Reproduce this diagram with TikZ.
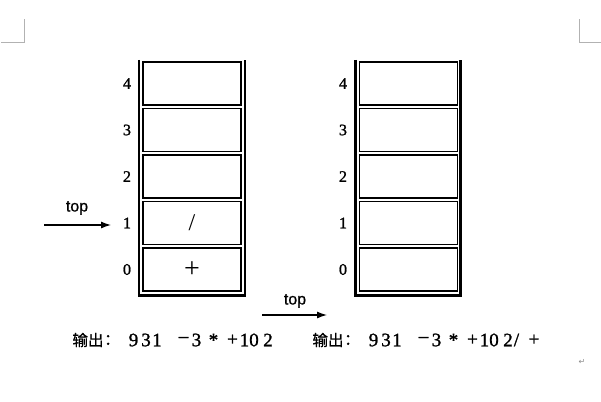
\documentclass[tikz,border=0pt]{standalone}
\usepackage{fontspec}
\setmainfont{Liberation Serif}
\newfontfamily\digf[FakeBold=1.3]{Liberation Serif}
\newfontfamily\cjk[FakeBold=1]{Noto Sans CJK SC}
\newfontfamily\sansf[FakeBold=0.8]{Liberation Sans}
\newfontfamily\dejavu{DejaVu Sans}
\usetikzlibrary{arrows.meta}
\newcommand\myslashch{/}
\newcommand\myast{\raisebox{-3pt}{*}}
\newcommand\mydash{\raisebox{1pt}{–}}
\tikzset{
  cell/.style={draw, line width=1.2pt, minimum width=98pt, minimum height=43pt, inner sep=0pt},
  wall/.style={line width=2.8pt, line join=miter},
  idx/.style={font=\digf\fontsize{16}{16}\selectfont, inner sep=0pt},
  toplab/.style={font=\sansf\fontsize{16}{16}\selectfont, inner sep=0pt},
  ptr/.style={line width=1.2pt, -{Latex[length=10pt,width=7pt]}},
  outch/.style={font=\digf\fontsize{19}{19}\selectfont, inner sep=0pt},
  cjklab/.style={font=\cjk\fontsize{15.5}{15.5}\selectfont, inner sep=0pt},
  crop/.style={draw=black!30, line width=0.8pt},
}
\begin{document}
\begin{tikzpicture}[x=1pt,y=-1pt]
\useasboundingbox (0,0) rectangle (601,401);
% crop marks
\draw[crop] (1,42) -- (24,42) -- (24,19);
\draw[crop] (601,42) -- (579,42) -- (579,19);
% stacks
\foreach \i/\y in {4/83.5,3/130,2/176.5,1/223,0/269.5}{
  \node[cell] (L\i) at (192,\y) {};
  \node[idx] (LN\i) at (127,\y) {\i};
  \node[cell] (R\i) at (408.5,\y) {};
  \node[idx] (RN\i) at (343,\y) {\i};
}
\node[font=\fontsize{24}{24}\selectfont, inner sep=0pt] (Lslash) at (L1) {/};
\node[font=\fontsize{28}{28}\selectfont, inner sep=0pt] (Lplus) at (L0) {+};
\coordinate (LW1) at (139,60);
\coordinate (LW2) at (139,295.5);
\coordinate (LW3) at (245,295.5);
\coordinate (LW4) at (245,60);
\draw[wall] (LW1) -- (LW2) -- (LW3) -- (LW4);
\coordinate (RW1) at (355.5,60);
\coordinate (RW2) at (355.5,295.5);
\coordinate (RW3) at (460.5,295.5);
\coordinate (RW4) at (460.5,60);
\draw[wall] (RW1) -- (RW2) -- (RW3) -- (RW4);
% top pointers
\coordinate (ta1) at (44,225);
\coordinate (tb1) at (111,225);
\draw[ptr] (ta1) -- (tb1);
\node[toplab] (top1) at (77,208) {top};
\coordinate (ta2) at (262,315);
\coordinate (tb2) at (327,315);
\draw[ptr] (ta2) -- (tb2);
\node[toplab] (top2) at (295,301) {top};
% output lines
\node[cjklab] (O1) at (88,340) {输出};
\node[cjklab] (C1) at (112,340) {：};
\foreach \c/\x [count=\k] in {9/133.5,3/146,1/157,\mydash/183.5,3/196.5,\myast/213.5,+/232.5,1/244.5,0/254,2/268}{
  \node[outch] (a\k) at (\x,340) {\c};
}
\node[cjklab] (O2) at (328,340) {输出};
\node[cjklab] (C2) at (352,340) {：};
\foreach \c/\x [count=\k] in {9/373.5,3/386,1/397,\mydash/423.5,3/436.5,\myast/453.5,+/472.5,1/484.5,0/494,2/508,\myslashch/516.5,+/534}{
  \node[outch] (b\k) at (\x,340) {\c};
}
\node[font=\dejavu\fontsize{8}{8}\selectfont, text=black!45, inner sep=0pt] (ret) at (582,362) {↵};
\end{tikzpicture}
\end{document}
